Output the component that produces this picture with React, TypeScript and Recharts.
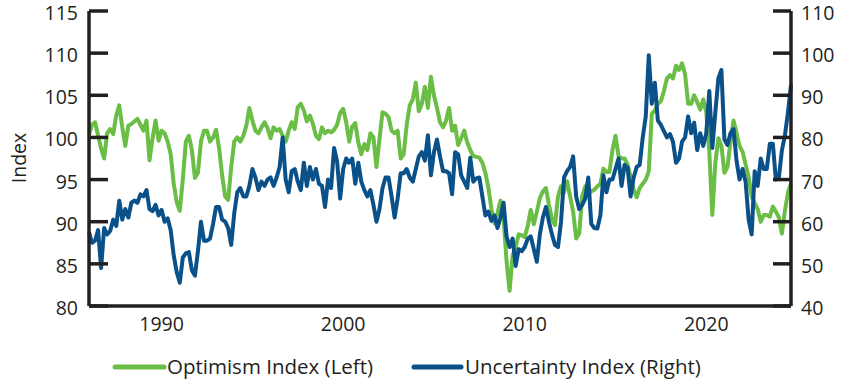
import React from 'react';
import { LineChart, Line, XAxis, YAxis } from 'recharts';

// bimonthly readings, Jan 1986 -> mid 2024
const START_YEAR = 1986;
const STEP = 1 / 6;

const optimism = [
  100.3, 101.5, 101.8, 100.2, 98.7, 97.5, 100.5, 101.0, 100.4, 102.6,
  103.8, 101.2, 99.0, 101.4, 101.6, 101.9, 102.2, 101.5, 100.8, 102.0,
  97.3, 99.9, 102.0, 99.6, 100.8, 100.5, 99.5, 98.0, 94.5, 92.3,
  91.3, 95.0, 99.5, 100.2, 98.5, 95.2, 95.8, 99.5, 100.8,
  100.8, 99.5, 100.0, 100.9, 98.7, 95.5, 93.0, 92.6, 96.5, 99.5,
  100.0, 99.5, 100.2, 101.4, 103.5, 102.0, 100.8, 100.5, 101.2, 101.8,
  101.1, 99.9, 101.2, 100.8, 101.0, 100.2, 99.5, 100.8, 101.8, 101.0,
  103.6, 104.0, 103.2, 101.9, 102.6, 101.6, 100.2, 99.8, 101.2, 100.5,
  100.8, 100.6, 100.9, 101.5, 102.9, 103.4, 101.8, 99.5, 101.3, 101.7,
  99.4, 98.0, 99.2, 98.5, 100.5, 100.0, 96.5, 99.8, 103.0, 102.8,
  102.4, 100.8, 100.5, 100.8, 97.5, 98.0, 101.5, 103.8, 104.5, 106.5,
  103.1, 104.0, 106.0, 103.5, 107.2, 105.0, 103.5, 101.8, 101.2,
  102.0, 103.5, 100.8, 101.4, 99.1, 99.9, 100.8, 99.4, 98.5, 97.8,
  97.7, 97.6, 97.0, 95.8, 94.0, 91.5, 89.8, 91.0, 92.5, 90.5,
  85.3, 81.8, 86.0, 87.0, 88.5, 88.4, 88.2, 89.5, 91.4, 89.7,
  91.2, 92.8, 93.6, 94.0, 92.0, 90.3, 89.6, 93.0, 94.2,
  93.5, 94.8, 93.0, 91.2, 88.0, 88.6, 93.0, 94.2, 93.3, 93.6,
  93.8, 94.2, 94.5, 96.3, 95.9, 95.9, 98.5, 100.2, 97.8, 97.5,
  97.5, 96.8, 95.3, 93.8, 92.9, 94.0, 94.5, 95.0, 96.0, 102.8,
  103.2, 104.0, 104.3, 105.5, 107.0, 107.4, 107.0, 108.5, 108.0,
  108.8, 107.5, 104.0, 104.0, 105.0, 104.2, 103.3, 104.5, 103.0, 98.3,
  90.8, 97.0, 99.9, 99.0, 95.8, 96.5, 99.5, 102.0, 100.5, 99.0,
  98.3, 96.8, 95.3, 93.0, 92.2, 91.5, 90.0, 90.8, 90.8, 90.6,
  91.8, 91.2, 90.5, 88.6, 91.3, 93.5, 94.5,
];

const uncertainty = [
  57.5, 55.0, 55.5, 58.0, 49.0, 58.5, 57.0, 57.8, 60.5, 59.0,
  65.0, 60.5, 63.0, 61.0, 64.5, 65.0, 64.5, 66.5, 66.0, 67.5,
  63.0, 62.5, 64.0, 61.5, 62.8, 60.0, 60.8, 58.0, 52.0, 48.0,
  45.5, 51.5, 52.5, 52.8, 48.5, 47.2, 53.0, 60.0, 55.5,
  55.5, 56.0, 59.5, 63.5, 63.5, 60.5, 60.0, 58.5, 54.5, 62.0,
  67.0, 68.0, 66.0, 66.0, 68.5, 72.5, 70.5, 67.5, 69.5, 68.5,
  70.0, 70.5, 68.5, 70.5, 73.0, 80.0, 70.0, 67.0, 72.0, 72.5,
  69.5, 67.5, 74.0, 68.5, 73.0, 70.0, 72.5, 69.0, 68.5, 63.5,
  70.0, 68.0, 77.5, 74.3, 65.5, 72.5, 75.0, 74.0, 75.0, 69.0,
  74.0, 69.5, 67.5, 66.0, 67.5, 64.0, 60.0, 63.0, 68.0, 70.5,
  70.5, 66.0, 61.0, 65.5, 71.5, 71.5, 72.5, 70.5, 69.5, 72.5,
  75.5, 76.5, 74.5, 80.5, 71.0, 76.5, 79.5, 75.5, 72.0,
  72.0, 71.5, 66.5, 76.5, 76.0, 71.0, 69.5, 68.0, 75.2, 69.5,
  70.3, 70.5, 66.0, 61.5, 62.4, 60.2, 61.5, 58.5, 61.0, 64.5,
  56.5, 54.0, 56.0, 49.5, 53.5, 53.0, 54.0, 56.0, 56.5, 53.5,
  50.5, 57.0, 61.0, 63.5, 60.0, 57.0, 54.5, 54.0, 60.0,
  70.5, 72.0, 73.0, 75.5, 66.0, 63.0, 64.0, 65.5, 70.5, 59.5,
  58.5, 58.4, 61.5, 71.0, 67.0, 70.0, 70.0, 72.5, 75.0, 68.5,
  73.5, 72.8, 66.0, 70.5, 73.0, 73.5, 80.0, 85.0, 99.5, 88.0,
  93.0, 84.0, 83.0, 81.5, 80.0, 80.8, 79.0, 74.0, 75.0,
  79.0, 80.0, 85.0, 81.0, 83.5, 77.0, 81.0, 78.0, 81.0, 91.0,
  77.5, 86.0, 94.0, 96.0, 79.5, 78.2, 81.0, 82.0, 74.5, 70.0,
  72.5, 69.5, 60.5, 57.0, 72.0, 68.5, 75.0, 72.5, 72.5, 78.5,
  78.5, 70.0, 70.5, 77.0, 80.5, 86.0, 92.5,
];

const yearTicks = [1990, 2000, 2010, 2020];
const leftTicks = [80, 85, 90, 95, 100, 105, 110, 115];
const rightTicks = [40, 50, 60, 70, 80, 90, 100, 110];

const data = optimism.map((v, i) => ({
  date: START_YEAR + i * STEP,
  optimism: v,
  uncertainty: uncertainty[i],
}));

const GREEN = '#6abd45';
const BLUE = '#0a5089';
const INK = '#231f20';
const FONT = '"Open Sans", Lato, sans-serif';

const LeftTick = (props: any) => {
  const { x, y, payload } = props;
  return (
    <g>
      <line x1={x + 11} x2={x + 30} y1={y} y2={y} stroke={INK} strokeWidth={3.5} />
      <text x={x} y={y + 2} dy="0.36em" textAnchor="end" fill={INK} fontSize={19.5} fontFamily={FONT}>
        {payload.value}
      </text>
    </g>
  );
};

const RightTick = (props: any) => {
  const { x, y, payload } = props;
  return (
    <g>
      <line x1={x - 28} x2={x - 10} y1={y} y2={y} stroke={INK} strokeWidth={3.5} />
      <text x={x} y={y + 2} dy="0.36em" textAnchor="start" fill={INK} fontSize={19.5} fontFamily={FONT}>
        {payload.value}
      </text>
    </g>
  );
};

export default function App() {
  return (
    <div style={{ position: 'absolute', left: 0, top: 0, width: 845, height: 388, background: '#fff' }}>
      <LineChart width={845} height={388} data={data} margin={{ top: 11, right: 0, bottom: 0, left: 0 }}>
        <XAxis
          dataKey="date"
          type="number"
          domain={[START_YEAR, START_YEAR + (optimism.length - 1) * STEP]}
          ticks={yearTicks}
          tickLine={false}
          tickSize={0}
          tickMargin={11}
          height={82}
          axisLine={{ stroke: INK, strokeWidth: 3.5 }}
          tick={{ fill: INK, fontSize: 19.5, fontFamily: FONT }}
        />
        <YAxis
          yAxisId="left"
          orientation="left"
          width={89}
          domain={[80, 115]}
          ticks={leftTicks}
          interval={0}
          tickLine={false}
          tickSize={0}
          tickMargin={11}
          axisLine={{ stroke: INK, strokeWidth: 3.5 }}
          tick={<LeftTick />}
          label={{
            content: () => (
              <text
                x={18}
                y={158}
                transform="rotate(-90 18 158)"
                textAnchor="middle"
                dominantBaseline="central"
                fill={INK}
                fontSize={19.5}
                fontFamily={FONT}
              >
                Index
              </text>
            ),
          }}
        />
        <YAxis
          yAxisId="right"
          orientation="right"
          width={54}
          domain={[40, 110]}
          ticks={rightTicks}
          interval={0}
          tickLine={false}
          tickSize={0}
          tickMargin={10}
          axisLine={{ stroke: INK, strokeWidth: 3.5 }}
          tick={<RightTick />}
        />
        <Line
          yAxisId="left"
          type="linear"
          dataKey="optimism"
          stroke={GREEN}
          strokeWidth={4}
          strokeLinejoin="round"
          dot={false}
          isAnimationActive={false}
        />
        <Line
          yAxisId="right"
          type="linear"
          dataKey="uncertainty"
          stroke={BLUE}
          strokeWidth={4}
          strokeLinejoin="round"
          dot={false}
          isAnimationActive={false}
        />
      </LineChart>
      <svg width={845} height={388} style={{ position: 'absolute', left: 0, top: 0, pointerEvents: 'none' }}>
        <line x1={115} x2={164} y1={367} y2={367} stroke={GREEN} strokeWidth={5} strokeLinecap="round" />
        <text x={167} y={374} fill={INK} fontSize={20.5} fontFamily={FONT}>Optimism Index (Left)</text>
        <line x1={414} x2={461} y1={367} y2={367} stroke={BLUE} strokeWidth={5} strokeLinecap="round" />
        <text x={465} y={374} fill={INK} fontSize={20.5} fontFamily={FONT}>Uncertainty Index (Right)</text>
      </svg>
    </div>
  );
}
